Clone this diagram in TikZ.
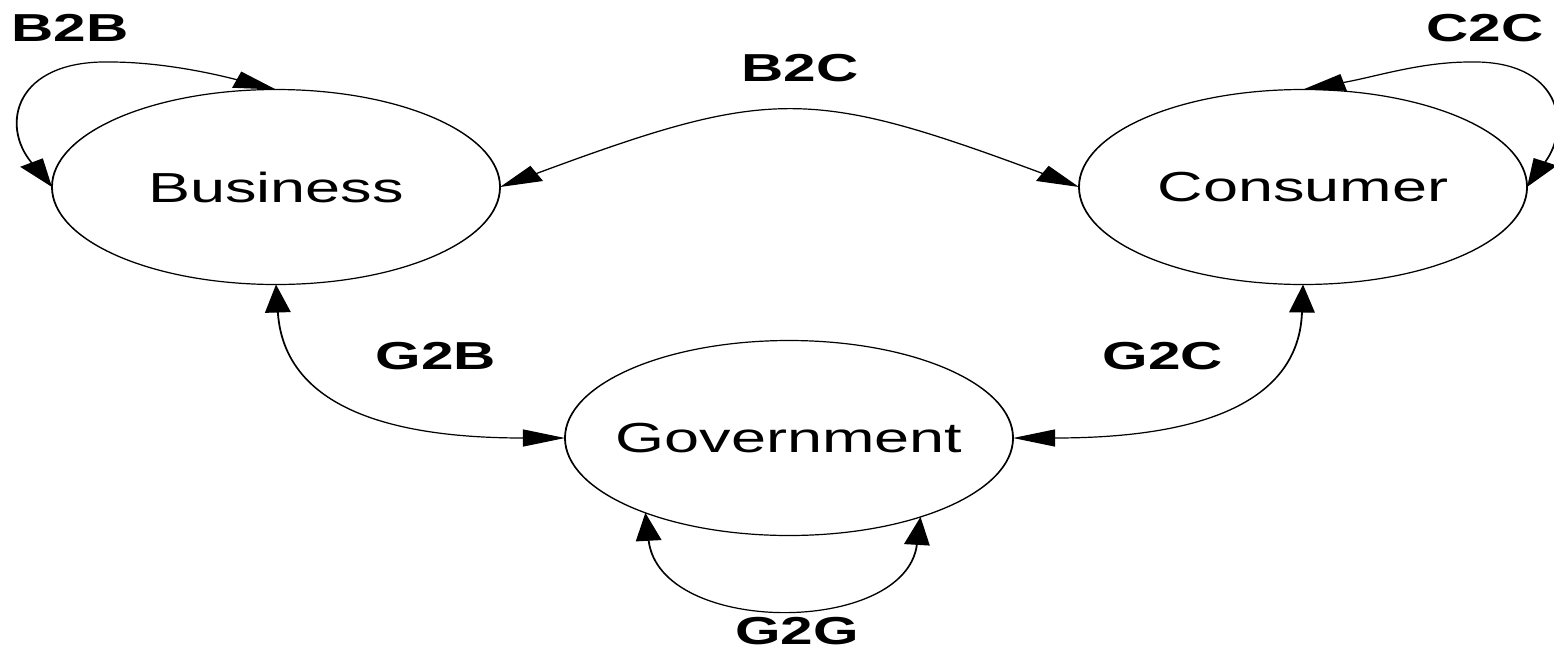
\documentclass[tikz,border=0pt]{standalone}
\usepackage{fontspec}
\setmainfont{Liberation Sans}
\usetikzlibrary{arrows.meta,shapes.geometric}
% party name, kept from widening its ellipse
\newcommand{\partyname}[1]{\makebox[0pt]{#1}}
\begin{document}
\begin{tikzpicture}[x=1pt,y=-1pt]
\useasboundingbox (0,0) rectangle (1554,651);
% everything is drawn in a frame stretched 1.5 times horizontally
\begin{scope}[transform canvas={xscale=1.5}, x=0.66667pt, y=-1pt,
  actor/.style={ellipse, draw, line width=1.2pt, minimum width=298.7pt,
    minimum height=195pt, inner sep=0pt, outer sep=0pt,
    font=\fontsize{42}{50}\selectfont},
  rel/.style={line width=1.2pt,
    {Triangle[length=28pt,width=17pt]}-{Triangle[length=28pt,width=17pt]}},
  tag/.style={font=\fontsize{39}{46}\selectfont\bfseries, inner sep=0pt}]

  % parties
  \node[actor] (bus) at (276,187) {\partyname{Business}};
  \node[actor] (con) at (1303,187) {\partyname{Consumer}};
  \node[actor] (gov) at (789,438) {\partyname{Government}};

  % relations
  \draw[rel] (bus.west) .. controls (0,125) and (15,60) .. (110,62)
    .. controls (170,62) and (230,78) .. (bus.north);
  \draw[rel] (bus.east) .. controls (770,87) and (810,87) .. (con.west);
  \draw[rel] (con.north) .. controls (1375,77) and (1420,62) .. (1470,62)
    .. controls (1560,60) and (1572,125) .. (con.east);
  \draw[rel] (bus.south) .. controls (285,420) and (420,438) .. (gov.west);
  \draw[rel] (con.south) .. controls (1298,420) and (1160,438) .. (gov.east);
  \draw[rel] (gov.218) .. controls (660,636) and (905,636) .. (gov.318);

  % relation labels
  \node[tag] (lb2b) at (70,28) {B2B};
  \node[tag] (lb2c) at (800,68) {B2C};
  \node[tag] (lc2c) at (1485,28) {C2C};
  \node[tag] (lg2b) at (436,356) {G2B};
  \node[tag] (lg2c) at (1163,356) {G2C};
  \node[tag] (lg2g) at (797,631) {G2G};
\end{scope}
\end{tikzpicture}
\end{document}
